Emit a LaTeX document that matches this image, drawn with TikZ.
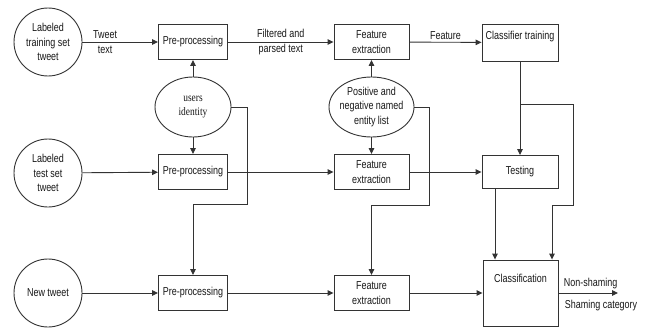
\documentclass[tikz,border=0pt]{standalone}
\usepackage{fontspec}
\setmainfont{Liberation Sans}[FakeStretch=0.78]
\newfontfamily\idfont{Liberation Serif}[FakeStretch=0.82]
\usetikzlibrary{arrows.meta,shapes.geometric}
\tikzset{
  every node/.style={font=\fontsize{11.5}{14.5}\selectfont,text=black!90},
  srcnode/.style={draw,circle,minimum size=68pt,inner sep=0pt,align=center},
  procbox/.style={draw,rectangle,minimum width=69pt,minimum height=35pt,inner sep=0pt,align=center},
  dataell/.style={draw,ellipse,minimum height=60pt,inner xsep=-8pt,inner ysep=0pt,align=center},
  arr/.style={-{Triangle[length=6pt,width=5.5pt]}},
}
\begin{document}
\begin{tikzpicture}[x=1pt,y=-1pt,line width=0.9pt,draw=black!80]
\useasboundingbox[fill=white](0,0) rectangle (645,329);
% inputs
\node[srcnode] (trn) at (48,42) {Labeled\\training set\\tweet};
\node[srcnode] (tst) at (48,173) {Labeled\\test set\\tweet};
\node[srcnode] (new) at (48,293) {New tweet};
% pre-processing and feature extraction, one per row
\foreach \ky/\kn in {42/1,172/2,293/3}{
  \node[procbox] (pp\kn) at (193,\ky) {Pre-processing};
  \node[procbox,minimum width=75pt] (fe\kn) at (371.5,\ky) {Feature\\extraction};
}
\node[dataell,minimum width=76pt] (uid) at (193,107) {\idfont users\\\idfont identity};
\node[dataell,minimum width=85pt] (ner) at (371.5,107) {Positive and\\negative named\\entity list};
% classifier side
\node[procbox,minimum width=76pt,minimum height=0pt,text height=15.5pt,text depth=21.5pt] (clt) at (520,42.5) {Classifier training};
\node[procbox,minimum width=76pt,minimum height=33pt] (tstg) at (520,172) {Testing};
\node[procbox,minimum width=75pt,minimum height=0pt,text height=22.5pt,text depth=43.5pt] (cls) at (520.5,293) {Classification};
\coordinate (uidc) at (247,204);
\coordinate (nerc) at (429,205);
\coordinate (brA) at (520,104);
\coordinate (brB) at (573,205);
\coordinate (out) at (618,293);
% connectors
\draw[arr](trn)--(pp1)node[pos=0.3,align=center]{Tweet\\text};
\draw[arr](tst)--(pp2);
\draw[arr](new)--(pp3);
\draw[arr](pp1)--(fe1)node[midway,align=center]{Filtered and\\parsed text};
\draw[arr](pp2)--(fe2);
\draw[arr](pp3)--(fe3);
\draw[arr](fe1)--(clt)node[midway,above,inner sep=2pt]{Feature};
\draw[arr](fe2)--(tstg);
\draw[arr](fe3)--(cls);
\draw[arr](uid)--(pp1);
\draw[arr](uid)--(pp2);
\draw[arr](uid.east)-|(uidc)-|(pp3.north);
\draw[arr](ner)--(fe1);
\draw[arr](ner)--(fe2);
\draw[arr](ner.east)-|(nerc)-|(fe3.north);
\draw[arr](clt)--(tstg);
\draw[arr](brA)-|(brB)-|([xshift=31.5pt]cls.north);
\draw[arr]([xshift=-25pt]tstg.south)--([xshift=-25.5pt]cls.north);
\draw[arr](cls)--(out)
  node[pos=0,anchor=south west,xshift=5pt,yshift=4pt,inner sep=0pt]{Non-shaming}
  node[pos=0,anchor=north west,xshift=6pt,yshift=-7pt,inner sep=0pt]{Shaming category};
\end{tikzpicture}
\end{document}
